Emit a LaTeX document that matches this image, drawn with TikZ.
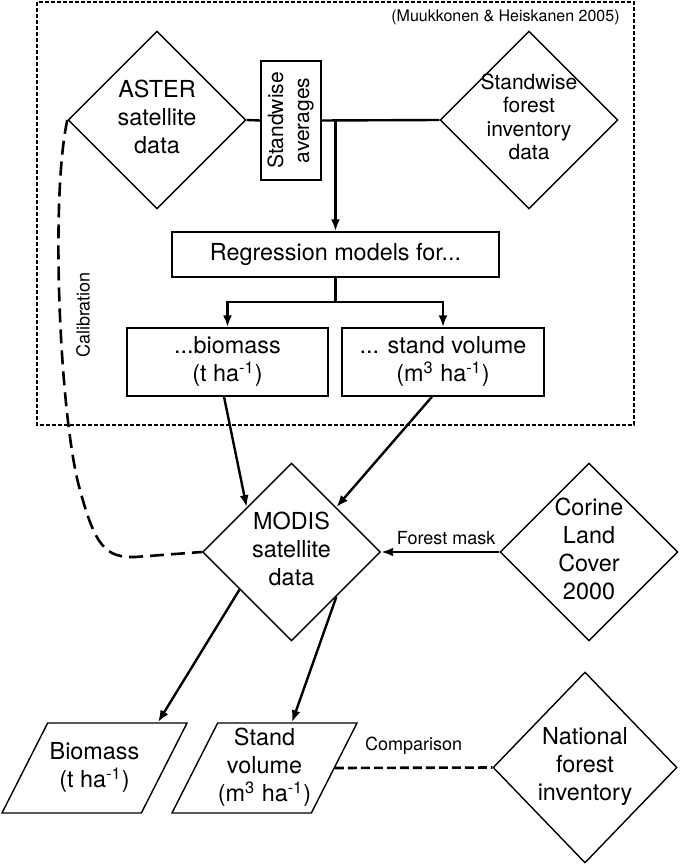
\documentclass[tikz,border=0pt]{standalone}
\usepackage{fontspec}
\setmainfont{TeX Gyre Heros}
\usetikzlibrary{shapes.geometric,arrows.meta,calc}
\newcommand{\ctext}[1]{\smash{\makebox[0pt]{\raisebox{-0.25em}{\begin{tabular}{@{}c@{}}#1\end{tabular}}}}}
\newcommand{\ptext}[1]{\makebox[1pt]{\ctext{#1}}}
\newcommand{\tha}{(t ha\textsuperscript{-1})}
\newcommand{\mha}{(m\textsuperscript{3} ha\textsuperscript{-1})}

\begin{document}
\begin{tikzpicture}[x=0.5pt,y=-0.5pt]
\tikzstyle{every node}+=[inner sep=0pt, font=\fontsize{11.7}{14}\selectfont]
\tikzstyle{dia}=[draw, line width=0.7pt, diamond, minimum width=89pt, minimum height=89pt]
\tikzstyle{box}=[draw, line width=0.7pt, rectangle]
\tikzstyle{para}=[draw, line width=0.7pt, trapezium, trapezium left angle=64, trapezium right angle=116, trapezium stretches=true, minimum width=92.5pt, minimum height=45pt, text height=0.5pt, text depth=0.5pt]
\tikzstyle{conn}=[line width=1.2pt, -{Latex[length=6pt,width=4.5pt]}]
\tikzstyle{lbl}=[font=\fontsize{9}{11}\selectfont]
\useasboundingbox (0,0) rectangle (679,865);
\draw [line width=0.8pt, dash pattern=on 2pt off 1pt] (37,2) rectangle (634,425);
\node [anchor=east, font=\fontsize{8}{10}\selectfont] (cite) at (620,17) {(Muukkonen \& Heiskanen 2005)};
\node [dia] (aster) at (157,120) {\ctext{ASTER\\satellite\\data}};
\node [box, minimum width=30pt, minimum height=59.5pt] (avg) at (291,120.5) {\rotatebox{90}{\fontsize{10.5}{13}\selectfont\begin{tabular}{@{}c@{}}Standwise\\averages\end{tabular}}};
\node [dia, font=\fontsize{10.5}{11.7}\selectfont] (sfi) at (529,120) {\ctext{Standwise\\forest\\inventory\\data}};
\node [box, minimum width=163.5pt, minimum height=22.5pt] (reg) at (335.5,254.5) {Regression models for...};
\coordinate (split) at (335.5,302);
\node [box, minimum width=100.5pt, minimum height=34pt] (biobox) at (227.5,362) {\ctext{...biomass\\\tha}};
\node [box, minimum width=101pt, minimum height=34pt] (volbox) at (443,362) {\ctext{... stand volume\\\mha}};
\node [lbl, rotate=90] (calib) at (83,315) {Calibration};
\node [dia] (modis) at (291.5,552) {\ctext{MODIS\\satellite\\data}};
\node [dia] (corine) at (589,552) {\ctext{Corine\\Land\\Cover\\2000}};
\node [para] (bio) at (94.5,768) {\ptext{Biomass\\\tha}};
\node [para] (sv) at (264.5,768) {\ptext{Stand\\volume\\\mha}};
\node [dia, minimum width=92pt, minimum height=95.5pt] (nfi) at (585,767.5) {\ctext{National\\forest\\inventory}};
\draw [line width=1.2pt] (aster.east) -- (avg.west);
\draw [line width=1.2pt] (avg.east) -- (sfi.west);
\draw [conn] (reg.north |- avg.east) -- (reg.north);
\draw [line width=1.2pt] (reg.south) -- (split);
\draw [conn] (split) -| (biobox.north);
\draw [conn] (split) -| (volbox.north);
\draw [conn] ([xshift=-1.75pt]biobox.south) -- ($(modis.west)!0.5!(modis.north)$);
\draw [conn] ([xshift=-5.5pt]volbox.south) -- ($(modis.north)!0.5!(modis.east)$);
\draw [conn] (corine.west) -- node [lbl, above=3pt, pos=0.45] (mask) {Forest mask} (modis.east);
\draw [conn] ($(modis.west)!0.42!(modis.south)$) -- ([xshift=31.75pt]bio.north);
\draw [conn] ($(modis.south)!0.5!(modis.east)$) -- ([xshift=13.75pt]sv.north);
\draw [line width=1.3pt, dash pattern=on 4.5pt off 2pt] (sv.east) -- node [lbl, above=6pt] (cmp) {Comparison} (nfi.west);
\draw [line width=1.3pt, dash pattern=on 7pt off 3.5pt] (aster.west) .. controls (50,200) and (60,420) .. (80,490) .. controls (95,545) and (105,558) .. (135,557) -- (modis.west);
\end{tikzpicture}
\end{document}
